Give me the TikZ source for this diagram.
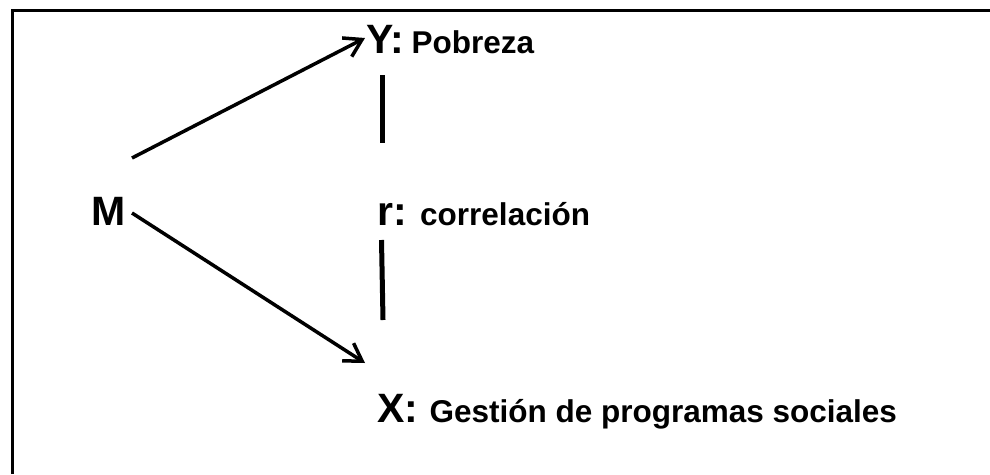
\documentclass[tikz,border=0pt]{standalone}
\usepackage{fontspec}
\setmainfont{Liberation Sans}
\usetikzlibrary{positioning,arrows.meta}

\begin{document}
\begin{tikzpicture}[x=1pt,y=-1pt,
		big/.style={font=\fontsize{41}{41}\selectfont\bfseries, inner sep=0pt, anchor=base west},
		small/.style={font=\fontsize{31.5}{31.5}\selectfont\bfseries, inner sep=0pt},
		arr/.style={line width=3.5pt, -{Straight Barb[length=17pt,width=21pt,line width=3.5pt]}},
		bar/.style={line width=5pt}]
				\useasboundingbox (0,0) rectangle (990,474);
				\draw[line width=3pt] (12,474) -- (12,10) -- (990,10);
				\node[big] (M) at (91, 225) {M};
				\node[big] (Y) at (366, 53) {Y:};
				\node[big] (r) at (377, 225) {r:};
				\node[big] (X) at (377, 422) {X:};
				\node[small, right=7pt of Y.base east, anchor=base west] (pobreza) {Pobreza};
				\node[small, right=13pt of r.base east, anchor=base west] (correlacion) {correlación};
				\node[small, right=11pt of X.base east, anchor=base west] (gestion) {Gestión de programas sociales};
				\draw[arr] ([shift={(41,-67)}]M.base west) -- ([shift={(-1,-15)}]Y.base west);
				\draw[arr] ([shift={(41,-12)}]M.base west) -- ([shift={(-12,-59)}]X.base west);
				\draw[bar] ([shift={(16,22)}]Y.base west) -- ([shift={(5,-82)}]r.base west);
				\draw[bar] ([shift={(4.5,15)}]r.base west) -- ([shift={(6,-102)}]X.base west);
				\end{tikzpicture}
\end{document}
